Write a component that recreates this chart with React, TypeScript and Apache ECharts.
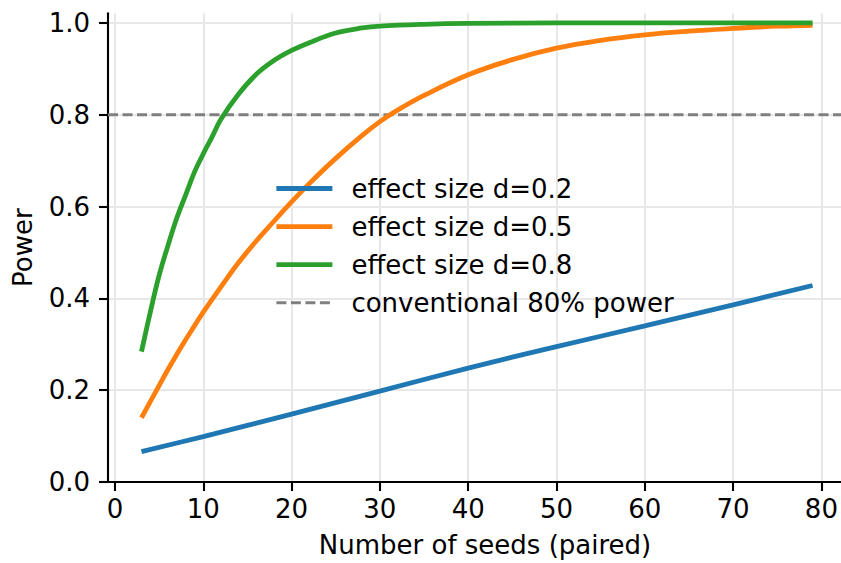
import React, { useEffect, useRef } from "react";
import * as echarts from "echarts";

const greenSeeds = [3, 4, 5, 6, 7, 8, 9, 10, 11, 12, 14, 16, 18, 20, 22, 25, 28, 30, 35, 40, 50, 60, 70, 79];
const powerD08 = [0.284, 0.37, 0.45, 0.515, 0.575, 0.625, 0.675, 0.715, 0.752, 0.79, 0.845, 0.888, 0.918, 0.94, 0.957, 0.978, 0.989, 0.993, 0.997, 0.999, 1.0, 1.0, 1.0, 1.0];

const orangeSeeds = [3, 4, 5, 6, 7, 8, 9, 10, 12, 14, 16, 18, 20, 22, 25, 28, 30, 32, 35, 40, 45, 50, 55, 60, 65, 70, 75, 79];
const powerD05 = [0.14, 0.175, 0.21, 0.245, 0.278, 0.31, 0.34, 0.37, 0.425, 0.478, 0.525, 0.568, 0.61, 0.65, 0.705, 0.755, 0.785, 0.81, 0.842, 0.887, 0.92, 0.945, 0.962, 0.974, 0.982, 0.988, 0.993, 0.995];

const blueSeeds = [3, 10, 20, 30, 40, 50, 60, 70, 79];
const powerD02 = [0.066, 0.099, 0.148, 0.198, 0.248, 0.295, 0.34, 0.386, 0.428];

const xTicks = [0, 10, 20, 30, 40, 50, 60, 70, 80];
const yTicks = [0, 0.2, 0.4, 0.6, 0.8, 1.0];
const threshold = 0.8;

const X_MIN = -0.79;
const X_MAX = 84.6;
const Y_MIN = 0;
const Y_MAX = 1.021;

const FONT = "DejaVu Sans";

const pairs = (xs: number[], ys: number[]) => xs.map((x, i) => [x, ys[i]]);

export default function App() {
  const ref = useRef<HTMLDivElement>(null);
  useEffect(() => {
    if (!ref.current) return;
    const chart = echarts.init(ref.current, null, { renderer: "svg" });
    const lineW = 4.8;
    chart.setOption({
      animation: false,
      grid: { left: 108, top: 13.3, right: 0, bottom: 78.5, containLabel: false },
      legend: {
        orient: "vertical",
        left: 269,
        top: 170.5,
        itemWidth: 56,
        itemHeight: 26,
        itemGap: 12.1,
        itemStyle: { opacity: 0 },
        textStyle: { fontFamily: FONT, fontSize: 26, color: "#000", padding: [0, 0, 0, 14] },
        data: [
          { name: "effect size d=0.2", lineStyle: { width: lineW } },
          { name: "effect size d=0.5", lineStyle: { width: lineW } },
          { name: "effect size d=0.8", lineStyle: { width: lineW } },
          { name: "conventional 80% power", lineStyle: { width: 3 } },
        ],
      },
      xAxis: {
        type: "value",
        min: X_MIN,
        max: X_MAX,
        name: "Number of seeds (paired)",
        nameLocation: "middle",
        nameGap: 50,
        nameTextStyle: { fontFamily: FONT, fontSize: 26, color: "#000" },
        axisLine: { show: true, onZero: false, lineStyle: { color: "#000", width: 2.1 } },
        axisTick: { show: true, length: 9, lineStyle: { color: "#000", width: 2.1 }, customValues: xTicks },
        axisLabel: { fontFamily: FONT, fontSize: 26, color: "#000", margin: 14, customValues: xTicks, formatter: (v: number) => String(Math.round(v)) },
        splitLine: { show: true, lineStyle: { color: "#e8e8e8", width: 2 } },
      },
      yAxis: {
        type: "value",
        min: Y_MIN,
        max: Y_MAX,
        name: "Power",
        nameLocation: "middle",
        nameGap: 72,
        nameTextStyle: { fontFamily: FONT, fontSize: 26, color: "#000" },
        axisLine: { show: true, onZero: false, lineStyle: { color: "#000", width: 2.1 } },
        axisTick: { show: true, length: 9, lineStyle: { color: "#000", width: 2.1 }, customValues: yTicks },
        axisLabel: { fontFamily: FONT, fontSize: 26, color: "#000", margin: 18, customValues: yTicks, formatter: (v: number) => v.toFixed(1) },
        splitLine: { show: true, lineStyle: { color: "#e8e8e8", width: 2 } },
      },
      series: [
        {
          name: "conventional 80% power",
          type: "line",
          symbol: "none",
          data: [[X_MIN, threshold], [X_MAX, threshold]],
          lineStyle: { color: "#808080", width: 3, type: [10, 4.5] },
          itemStyle: { color: "#808080" },
          z: 1,
        },
        {
          name: "effect size d=0.2",
          type: "line",
          symbol: "none",
          smooth: 0.4,
          data: pairs(blueSeeds, powerD02),
          lineStyle: { color: "#1f77b4", width: lineW },
          itemStyle: { color: "#1f77b4" },
          z: 2,
        },
        {
          name: "effect size d=0.5",
          type: "line",
          symbol: "none",
          smooth: 0.4,
          data: pairs(orangeSeeds, powerD05),
          lineStyle: { color: "#ff7f0e", width: lineW },
          itemStyle: { color: "#ff7f0e" },
          z: 3,
        },
        {
          name: "effect size d=0.8",
          type: "line",
          symbol: "none",
          smooth: 0.4,
          data: pairs(greenSeeds, powerD08),
          lineStyle: { color: "#2ca02c", width: lineW },
          itemStyle: { color: "#2ca02c" },
          z: 4,
        },
      ],
    });
    return () => chart.dispose();
  }, []);
  return (
    <div style={{ width: 841, height: 563, position: "absolute", left: 0, top: 0, overflow: "hidden" }}>
      <div ref={ref} style={{ width: 862, height: 563 }} />
    </div>
  );
}
